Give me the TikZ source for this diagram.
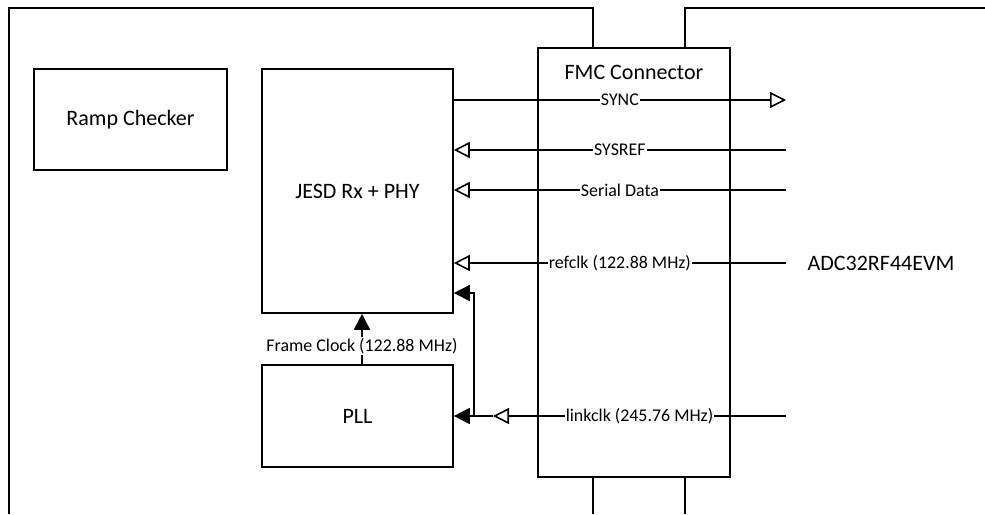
\documentclass[tikz,border=0pt]{standalone}
\usepackage{fontspec}
\setmainfont{Carlito}
\usetikzlibrary{arrows.meta}
\tikzset{
  box/.style={draw, line width=1.6pt, rectangle, inner sep=0pt, font=\fontsize{22}{26}\selectfont},
  wire/.style={line width=1.6pt},
  openarr/.style={wire, -{Triangle[open, length=16pt, width=16pt, line width=1.6pt]}},
  fillarr/.style={wire, -{Triangle[length=16pt, width=16pt]}},
  lbl/.style={fill=white, inner sep=1pt, font=\fontsize{17.9}{20}\selectfont},
  bigtxt/.style={inner sep=0pt, font=\fontsize{22}{26}\selectfont},
}
\begin{document}
\begin{tikzpicture}[x=1pt, y=-1pt]
\useasboundingbox (0,0) rectangle (985,514);
% board outlines
\draw[wire] (593,48) -- (593,8) -- (9,8) -- (9,514);
\draw[wire] (593,477) -- (593,514);
\draw[wire] (685,48) -- (685,8) -- (985,8);
\draw[wire] (685,477) -- (685,514);
% boxes
\node[box, minimum width=193pt, minimum height=101pt] (ramp) at (130.5,119.5) {Ramp Checker};
\node[box, minimum width=191pt, minimum height=244pt] (jesd) at (357.5,191) {JESD Rx + PHY};
\node[box, minimum width=191pt, minimum height=102pt] (pll) at (357.5,416) {PLL};
\node[box, minimum width=192pt, minimum height=429pt] (fmc) at (634,262.5) {};
\node[bigtxt] (fmct) at (634,72) {FMC Connector};
\node[bigtxt] (adc) at (881,263) {ADC32RF44EVM};
% right-side ends
\coordinate (syncR) at (786,100);
\coordinate (sysrefR) at (786,150);
\coordinate (serR) at (786,190);
\coordinate (refR) at (786,263);
\coordinate (linkR) at (786,416);
\coordinate (linkA) at (493,416);
\coordinate (jn) at (474,416);
\coordinate (jnT) at (474,293);
% signals
\draw[openarr] (jesd.east |- syncR) -- node[lbl] {SYNC} (syncR);
\draw[openarr] (sysrefR) -- node[lbl] {SYSREF} (jesd.east |- sysrefR);
\draw[openarr] (serR) -- node[lbl] {Serial Data} (jesd.east |- serR);
\draw[openarr] (refR) -- node[lbl] {refclk (122.88 MHz)} (jesd.east |- refR);
\draw[openarr] (linkR) -- node[lbl] {linkclk (245.76 MHz)} (linkA);
\draw[fillarr] (linkA) -- (pll.east |- linkA);
\draw[fillarr] (jn) -- (jnT) -- (jesd.east |- jnT);
\draw[fillarr] ([xshift=4.5pt]pll.north) -- node[lbl, pos=0.36] {Frame Clock (122.88 MHz)} ([xshift=4.5pt]jesd.south);
\end{tikzpicture}
\end{document}
